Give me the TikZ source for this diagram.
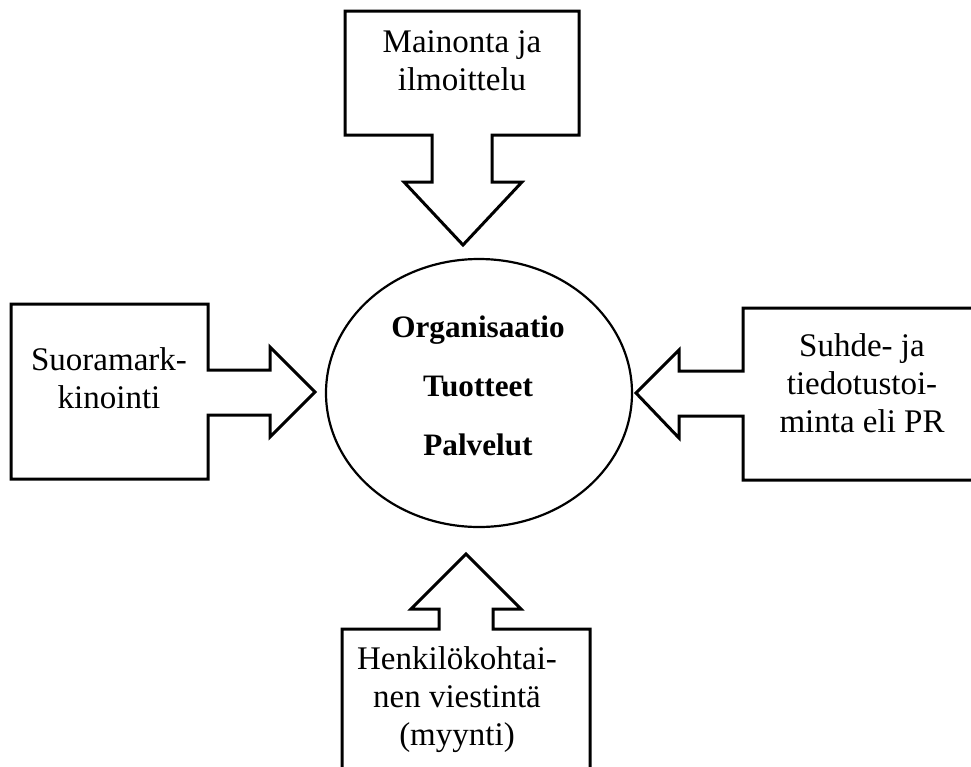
\documentclass[tikz,border=0pt]{standalone}
\usepackage{fontspec}
\setmainfont{Liberation Serif}
\usetikzlibrary{shapes.geometric}

% multi-line labels are anchored at the baseline of their last line
\tikzset{
  callout/.style={draw=black, fill=white, line width=1.5pt, line join=miter},
  label/.style={align=center, inner sep=0pt, anchor=base,
    font=\fontsize{16.5}{19}\selectfont},
  hub/.style={draw=black, line width=1.1pt, ellipse, inner sep=0pt,
    minimum width=153pt, minimum height=134pt},
  hubtext/.style={align=center, inner sep=0pt, anchor=base,
    font=\fontsize{15.6}{29.5}\selectfont\bfseries}
}

\begin{document}
\begin{tikzpicture}[x=0.5pt, y=-0.5pt]
  \useasboundingbox (0,0) rectangle (971,767);
  \clip (0,0) rectangle (971,767);

  % centre ellipse
  \node[hub] (org) at (479,393) {};
  \node[hubtext] (orgtext) at (478,455) {Organisaatio\\Tuotteet\\Palvelut};

  % top callout, arrow pointing down
  \draw[callout] (345,11) -- (579,11) -- (579,135) -- (492,135) -- (492,182)
    -- (522,182) -- (463,245) -- (404,182) -- (432,182) -- (432,135)
    -- (345,135) -- cycle;
  \node[label] (top) at (462,90) {Mainonta ja\\ilmoittelu};

  % left callout, arrow pointing right
  \draw[callout] (11,304) -- (208,304) -- (208,370) -- (270,370) -- (270,347)
    -- (315,392) -- (270,437) -- (270,415) -- (208,415) -- (208,479)
    -- (11,479) -- cycle;
  \node[label] (left) at (109,408) {Suoramark-\\kinointi};

  % right callout, arrow pointing left
  \draw[callout] (990,308) -- (743,308) -- (743,371) -- (679,371) -- (679,350)
    -- (636,393) -- (679,438) -- (679,416) -- (743,416) -- (743,480)
    -- (990,480);
  \node[label] (right) at (862,432) {Suhde- ja\\tiedotustoi-\\minta eli PR};

  % bottom callout, arrow pointing up
  \draw[callout] (342,790) -- (342,629) -- (439,629) -- (439,609) -- (411,609)
    -- (466,554) -- (521,609) -- (493,609) -- (493,629) -- (590,629)
    -- (590,790);
  \node[label] (bottom) at (457,745) {Henkilökohtai-\\nen viestintä\\(myynti)};
\end{tikzpicture}
\end{document}
